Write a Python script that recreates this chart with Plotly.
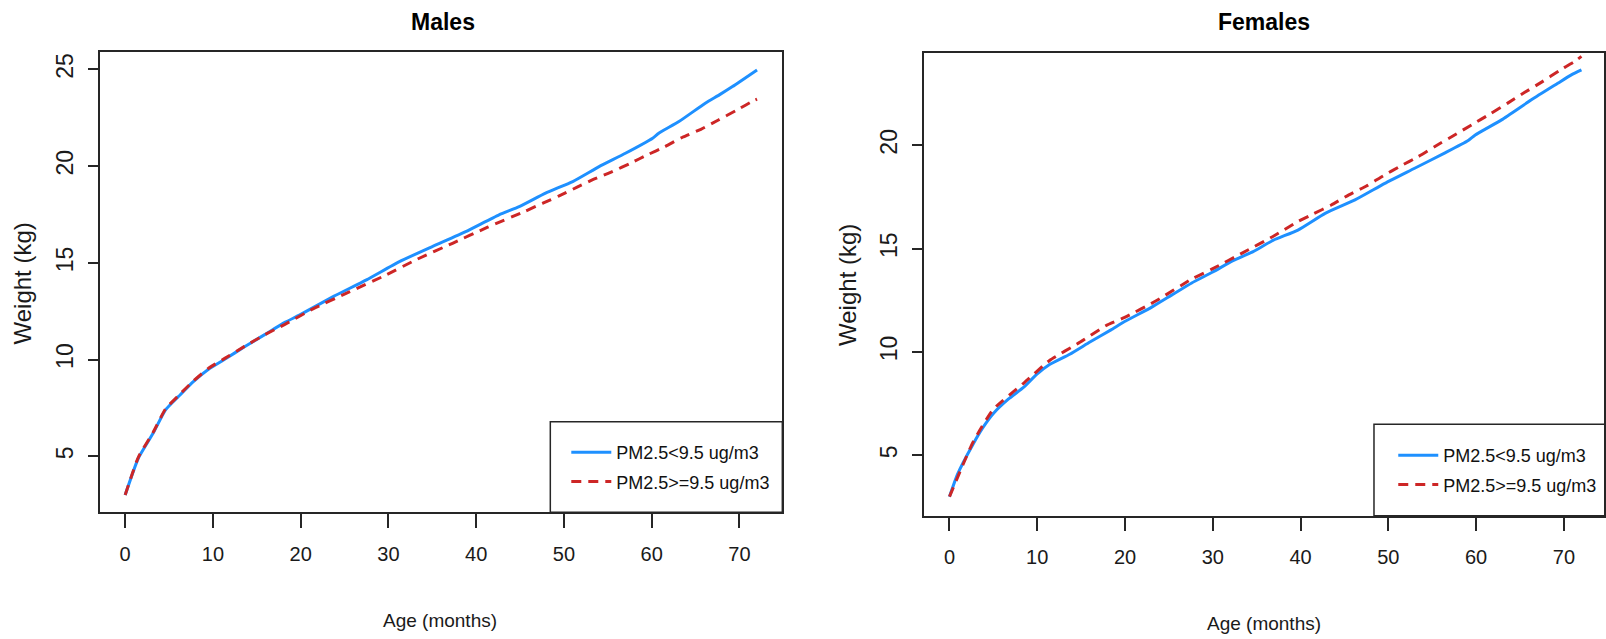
import plotly.graph_objects as go

W, H = 1606, 639

# ---------------- data ----------------
legend_low = "PM2.5<9.5 ug/m3"
legend_high = "PM2.5>=9.5 ug/m3"

m_low_age = [0, 1.5, 3.2, 4.6, 6.1, 7.8, 9.5, 11.3, 13.6, 15.9, 18.2, 19.9, 23.7, 27.5, 31.25,
             35.0, 38.8, 42.6, 44.9, 47.9, 51.0, 54.0, 57.0, 60.1, 60.8, 63.1, 66.1, 67.7, 69.2, 72]
m_low_wt = [3.0, 4.9, 6.2, 7.4, 8.1, 8.87, 9.5, 10.0, 10.66, 11.29, 11.92, 12.31, 13.25, 14.12,
            15.06, 15.84, 16.61, 17.48, 17.9, 18.6, 19.2, 19.97, 20.66, 21.44, 21.7, 22.3, 23.25,
            23.68, 24.11, 24.97]

m_high_age = [0, 1.5, 3.2, 4.6, 6.1, 7.8, 9.5, 11.3, 13.6, 15.9, 18.2, 21.4, 25.6, 29.35, 33.3,
              37.3, 41.3, 45.5, 47.6, 49.45, 51.5, 53.4, 55.5, 57.6, 59.5, 61.5, 63.5, 65.6, 67.6,
              69.6, 71.6, 72]
m_high_wt = [3.0, 4.95, 6.25, 7.45, 8.15, 8.9, 9.55, 10.05, 10.68, 11.28, 11.82, 12.62, 13.51,
             14.29, 15.19, 16.01, 16.84, 17.65, 18.08, 18.46, 18.91, 19.32, 19.71, 20.15, 20.58,
             21.0, 21.49, 21.9, 22.38, 22.87, 23.38, 23.46]

f_low_age = [0, 0.9, 2.7, 3.8, 5.0, 6.7, 8.5, 9.9, 11.4, 13.7, 16.0, 18.4, 19.9, 23.0, 25.3,
             27.6, 30.0, 32.3, 34.6, 36.9, 39.7, 42.8, 46.2, 49.6, 53.0, 56.4, 59.1, 59.9, 62.9,
             66.3, 69.3, 70.85, 72]
f_low_wt = [3.0, 4.07, 5.55, 6.34, 7.03, 7.72, 8.31, 8.9, 9.39, 9.89, 10.48, 11.07, 11.46, 12.16,
            12.75, 13.34, 13.87, 14.42, 14.86, 15.41, 15.9, 16.71, 17.36, 18.16, 18.89, 19.62,
            20.23, 20.5, 21.23, 22.2, 23.0, 23.41, 23.65]

f_high_age = [0, 2.7, 5.0, 8.5, 11.4, 14.9, 17.8, 19.9, 23.6, 27.6, 30.0, 33.5, 36.9, 39.7,
              41.45, 43.5, 45.5, 47.5, 49.4, 51.4, 53.4, 55.4, 57.4, 59.5, 61.6, 63.6, 65.5,
              67.55, 69.5, 71.2, 72]
f_high_wt = [3.0, 5.65, 7.23, 8.51, 9.59, 10.48, 11.27, 11.66, 12.49, 13.53, 14.03, 14.82, 15.6,
             16.31, 16.68, 17.11, 17.6, 18.03, 18.52, 19.0, 19.45, 19.97, 20.46, 20.99, 21.52,
             22.04, 22.55, 23.08, 23.62, 24.05, 24.3]

x_ticks = [0, 10, 20, 30, 40, 50, 60, 70]
y_ticks_m = [5, 10, 15, 20, 25]
y_ticks_f = [5, 10, 15, 20]

# ---------------- styling ----------------
BLUE = "#1E90FF"
RED = "#CD2626"
FONT = "Liberation Sans, Arial, sans-serif"
AX = "#262626"
TXT = "#1a1a1a"


def fx(px):
    return px / W


def fy(py):
    return 1 - py / H


fig = go.Figure()

line_kw = dict(mode="lines", line_shape="spline")
fig.add_trace(go.Scatter(x=m_low_age, y=m_low_wt, name=legend_low, xaxis="x", yaxis="y",
                         line=dict(color=BLUE, width=3, smoothing=0.5), legend="legend",
                         legendgroup="m1", **line_kw))
fig.add_trace(go.Scatter(x=m_high_age, y=m_high_wt, name=legend_high, xaxis="x", yaxis="y",
                         line=dict(color=RED, width=3, dash="10px,7px", smoothing=0.5),
                         legend="legend", legendgroup="m2", **line_kw))
fig.add_trace(go.Scatter(x=f_low_age, y=f_low_wt, name=legend_low, xaxis="x2", yaxis="y2",
                         line=dict(color=BLUE, width=3, smoothing=0.5), legend="legend2",
                         legendgroup="f1", **line_kw))
fig.add_trace(go.Scatter(x=f_high_age, y=f_high_wt, name=legend_high, xaxis="x2", yaxis="y2",
                         line=dict(color=RED, width=3, dash="10px,7px", smoothing=0.5),
                         legend="legend2", legendgroup="f2", **line_kw))

xcommon = dict(tickmode="array", tickvals=x_ticks, ticks="outside", ticklen=14, tickwidth=1.5,
               tickcolor=AX, showline=True, linecolor=AX, linewidth=1.5, mirror=True,
               showgrid=False, zeroline=False, ticklabelstandoff=9,
               tickfont=dict(family=FONT, size=20, color=TXT))
ycommon = dict(tickmode="array", ticks="outside", ticklen=10, tickwidth=1.5, tickcolor=AX,
               showline=True, linecolor=AX, linewidth=1.5, mirror=True, showgrid=False,
               zeroline=False, tickangle=-90, ticklabelstandoff=6,
               tickfont=dict(family=FONT, size=23, color=TXT))

legend_common = dict(xanchor="left", yanchor="top", bgcolor="rgba(0,0,0,0)", borderwidth=0,
                     itemwidth=40, tracegroupgap=3,
                     font=dict(family=FONT, size=18, color="#111"))

fig.update_layout(
    width=W, height=H,
    margin=dict(l=0, r=0, t=0, b=0),
    paper_bgcolor="white", plot_bgcolor="white",
    xaxis=dict(domain=[fx(100), fx(783.3)], range=[-2.88, 74.88], anchor="y", **xcommon),
    yaxis=dict(domain=[fy(512.3), fy(52.3)], range=[2.106, 25.88], anchor="x",
               tickvals=y_ticks_m, **ycommon),
    xaxis2=dict(domain=[fx(925), 1.0], range=[-2.92, 74.57], anchor="y2", **xcommon),
    yaxis2=dict(domain=[fy(515.7), fy(52.7)], range=[2.08, 24.48], anchor="x2",
                tickvals=y_ticks_f, **ycommon),
    legend=dict(x=fx(567), y=fy(434), **legend_common),
    legend2=dict(x=fx(1395), y=fy(437), **legend_common),
    showlegend=True,
)

# legend frames (drawn like R's legend box, touching the plot frame)
fig.add_shape(type="rect", xref="paper", yref="paper", x0=fx(551), x1=fx(783.3),
              y0=fy(512.3), y1=fy(421.7), line=dict(color=AX, width=1.5), layer="above")
fig.add_shape(type="rect", xref="paper", yref="paper", x0=fx(1375.7), x1=fx(1620),
              y0=fy(515.7), y1=fy(424.3), line=dict(color=AX, width=1.5), layer="above")

ann = []
ann.append(dict(text="<b>Males</b>", x=fx(443.5), y=fy(22.5), font=dict(family=FONT, size=23, color="black")))
ann.append(dict(text="<b>Females</b>", x=fx(1266), y=fy(22.5), font=dict(family=FONT, size=23, color="black")))
ann.append(dict(text="Age (months)", x=fx(441), y=fy(620.5), font=dict(family=FONT, size=19, color=TXT)))
ann.append(dict(text="Age (months)", x=fx(1266), y=fy(623), font=dict(family=FONT, size=19, color=TXT)))
ann.append(dict(text="Weight (kg)", x=fx(23), y=fy(283.5), textangle=-90, font=dict(family=FONT, size=24, color=TXT)))
ann.append(dict(text="Weight (kg)", x=fx(848), y=fy(285), textangle=-90, font=dict(family=FONT, size=24, color=TXT)))
for a in ann:
    a.update(xref="paper", yref="paper", showarrow=False, xanchor="center", yanchor="middle")
fig.update_layout(annotations=ann)

fig.write_html("out.html", config={"displayModeBar": False},
               post_script="document.body.style.margin='0';document.body.style.padding='0';")
